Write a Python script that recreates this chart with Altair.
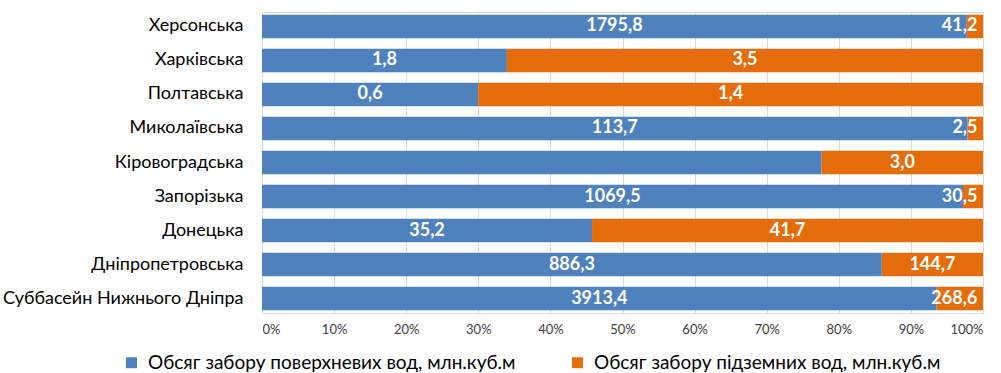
import altair as alt
import pandas as pd

# Water intake by region, million cubic metres
regions = [
    "Херсонська",
    "Харківська",
    "Полтавська",
    "Миколаївська",
    "Кіровоградська",
    "Запорізька",
    "Донецька",
    "Дніпропетровська",
    "Суббасейн Нижнього Дніпра",
]
surface = [1795.8, 1.8, 0.6, 113.7, 10.4, 1069.5, 35.2, 886.3, 3913.4]
ground = [41.2, 3.5, 1.4, 2.5, 3.0, 30.5, 41.7, 144.7, 268.6]
surface_labels = ["1795,8", "1,8", "0,6", "113,7", "", "1069,5", "35,2", "886,3", "3913,4"]
ground_labels = ["41,2", "3,5", "1,4", "2,5", "3,0", "30,5", "41,7", "144,7", "268,6"]

series_names = [
    "Обсяг забору поверхневих вод, млн.куб.м",
    "Обсяг забору підземних вод, млн.куб.м",
]
series_colors = ["#4F81BD", "#E46C0A"]

rows = []
for i, r in enumerate(regions):
    rows.append({"region": r, "series": series_names[0], "value": surface[i],
                 "label": surface_labels[i], "order": 0})
    rows.append({"region": r, "series": series_names[1], "value": ground[i],
                 "label": ground_labels[i], "order": 1})
df = pd.DataFrame(rows)

FONT = "Lato"
PLOT_W = 721

y_enc = alt.Y(
    "region:N",
    sort=regions,
    title=None,
    scale=alt.Scale(paddingInner=0.31, paddingOuter=0.08),
    axis=alt.Axis(domain=False, ticks=False, grid=False, labelFont=FONT,
                  labelFontSize=18, labelColor="#000000", labelPadding=19,
                  labelLimit=300),
)

x_scale = alt.Scale(domain=[0, 1], nice=False)

bars = alt.Chart(df).mark_bar().encode(
    x=alt.X(
        "value:Q",
        stack="normalize",
        scale=x_scale,
        title=None,
        axis=alt.Axis(
            values=[i / 10 for i in range(11)],
            format="%",
            domain=False,
            ticks=False,
            grid=True,
            gridColor="#D9D9D9",
            gridWidth=1,
            labelFont=FONT,
            labelFontSize=13,
            labelColor="#404040",
            labelPadding=10,
        ),
    ),
    y=y_enc,
    color=alt.Color(
        "series:N",
        scale=alt.Scale(domain=series_names, range=series_colors),
        legend=alt.Legend(
            title=None,
            orient="none",
            direction="horizontal",
            legendX=-140,
            legendY=341,
            symbolType="square",
            symbolSize=120,
            symbolStrokeWidth=0,
            labelFont=FONT,
            labelFontSize=19,
            labelColor="#000000",
            labelLimit=500,
            labelOffset=7,
            columnPadding=52,
            symbolOffset=0,
        ),
    ),
    order=alt.Order("order:Q"),
)

# value labels sit in the middle of each segment, kept inside the plot's right edge
labels = alt.Chart(df).transform_joinaggregate(
    total="sum(value)", groupby=["region"]
).transform_window(
    cum="sum(value)", sort=[alt.SortField("order")], groupby=["region"], frame=[None, 0]
).transform_calculate(
    mid="(datum.cum - datum.value / 2) / datum.total",
    half=f"length(datum.label) * 5.3 / {PLOT_W}",
).transform_calculate(
    pos="min(datum.mid, 0.997 - datum.half)"
).mark_text(
    font=FONT, fontSize=18, fontWeight="bold", color="white", align="center", baseline="middle"
).encode(
    x=alt.X("pos:Q", scale=x_scale),
    y=y_enc,
    text="label:N",
)

chart = alt.layer(bars, labels).properties(
    width=PLOT_W,
    height=301,
    autosize=alt.AutoSizeParams(type="none"),
    padding={"left": 262, "top": 12, "right": 18, "bottom": 60},
).configure_view(stroke=None).configure(background="white")

chart.save("out.html", embed_options={"renderer": "svg", "actions": False})
